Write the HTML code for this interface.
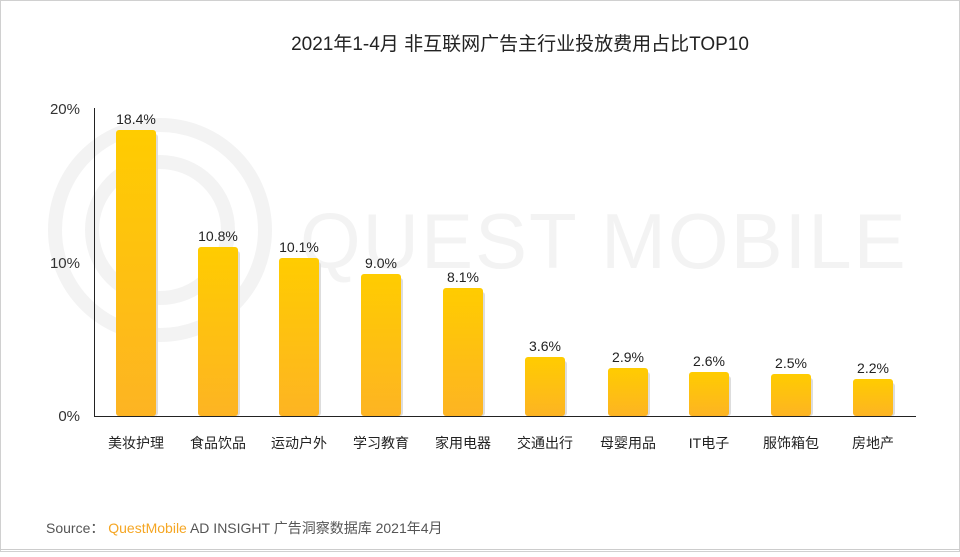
<!DOCTYPE html>
<html><head><meta charset="utf-8"><style>
body{margin:0;width:960px;height:552px;background:#fff;overflow:hidden;font-family:"Liberation Sans","Noto Sans CJK SC",sans-serif;}
</style></head><body>
<svg width="960" height="552" viewBox="0 0 960 552" xmlns="http://www.w3.org/2000/svg">
<defs>
<linearGradient id="g" x1="0" y1="0" x2="0" y2="1"><stop offset="0" stop-color="#ffcc00"/><stop offset="1" stop-color="#fdb423"/></linearGradient>
</defs>
<rect x="0.5" y="0.5" width="959" height="551" fill="#fff" stroke="#d0d0d0"/>
<g fill="none" stroke="#f3f3f3" stroke-width="14">
<circle cx="160" cy="230" r="105"/>
<circle cx="160" cy="230" r="68"/>
</g>
<text x="300" y="268" font-size="78" fill="#f3f3f3" font-family="Liberation Sans, sans-serif" letter-spacing="2">QUEST MOBILE</text>
<text x="520" y="50" text-anchor="middle" font-size="19" fill="#222" font-family="Liberation Sans, Noto Sans CJK SC, sans-serif">2021年1-4月 非互联网广告主行业投放费用占比TOP10</text>
<g font-size="15" fill="#333" text-anchor="end">
<text x="80" y="114">20%</text><text x="80" y="268">10%</text><text x="80" y="421">0%</text>
</g>
<g fill="#ddd">
<rect x="118" y="134" width="40" height="282" rx="3"/>
<rect x="200" y="251" width="40" height="165" rx="3"/>
<rect x="281" y="262" width="40" height="154" rx="3"/>
<rect x="363" y="278" width="40" height="138" rx="3"/>
<rect x="445" y="292" width="40" height="124" rx="3"/>
<rect x="527" y="361" width="40" height="55" rx="3"/>
<rect x="610" y="372" width="40" height="44" rx="3"/>
<rect x="691" y="376" width="40" height="40" rx="3"/>
<rect x="773" y="378" width="40" height="38" rx="3"/>
<rect x="855" y="383" width="40" height="33" rx="3"/>
</g>
<g fill="url(#g)">
<rect x="116" y="130" width="40" height="286" rx="3"/>
<rect x="198" y="247" width="40" height="169" rx="3"/>
<rect x="279" y="258" width="40" height="158" rx="3"/>
<rect x="361" y="274" width="40" height="142" rx="3"/>
<rect x="443" y="288" width="40" height="128" rx="3"/>
<rect x="525" y="357" width="40" height="59" rx="3"/>
<rect x="608" y="368" width="40" height="48" rx="3"/>
<rect x="689" y="372" width="40" height="44" rx="3"/>
<rect x="771" y="374" width="40" height="42" rx="3"/>
<rect x="853" y="379" width="40" height="37" rx="3"/>
</g>
<line x1="94.5" y1="108" x2="94.5" y2="416" stroke="#222"/>
<line x1="94" y1="416.5" x2="916" y2="416.5" stroke="#222"/>
<g font-size="14" fill="#222" text-anchor="middle">
<text x="136" y="124">18.4%</text><text x="218" y="241">10.8%</text><text x="299" y="252">10.1%</text><text x="381" y="268">9.0%</text><text x="463" y="282">8.1%</text><text x="545" y="351">3.6%</text><text x="628" y="362">2.9%</text><text x="709" y="366">2.6%</text><text x="791" y="368">2.5%</text><text x="873" y="373">2.2%</text>
</g>
<g font-size="14" fill="#222" text-anchor="middle">
<text x="136" y="448">美妆护理</text><text x="218" y="448">食品饮品</text><text x="299" y="448">运动户外</text><text x="381" y="448">学习教育</text><text x="463" y="448">家用电器</text><text x="545" y="448">交通出行</text><text x="628" y="448">母婴用品</text><text x="709" y="448">IT电子</text><text x="791" y="448">服饰箱包</text><text x="873" y="448">房地产</text>
</g>
<text x="46" y="533" font-size="14" fill="#555">Source： <tspan fill="#f5a623">QuestMobile</tspan> AD INSIGHT 广告洞察数据库 2021年4月</text>
<line x1="0" y1="549.5" x2="960" y2="549.5" stroke="#ccc"/>
</svg>
</body></html>
